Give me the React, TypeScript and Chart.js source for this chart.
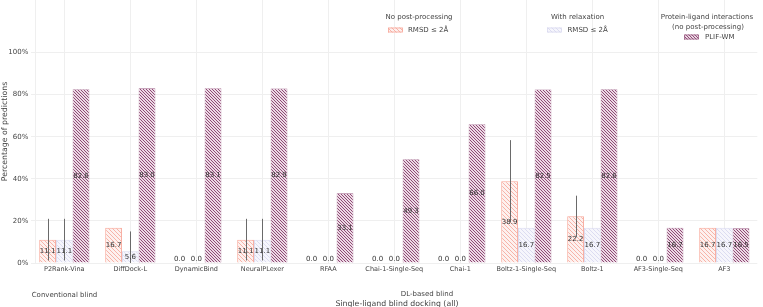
import React, { useEffect, useRef } from 'react';
import { Chart, registerables } from 'chart.js';

Chart.register(...registerables);

const categories = [
  'P2Rank-Vina', 'DiffDock-L', 'DynamicBind', 'NeuralPLexer', 'RFAA',
  'Chai-1-Single-Seq', 'Chai-1', 'Boltz-1-Single-Seq', 'Boltz-1', 'AF3-Single-Seq', 'AF3',
];
const rmsdNoPost = [11.1, 16.7, 0.0, 11.1, 0.0, 0.0, 0.0, 38.9, 22.2, 0.0, 16.7];
const rmsdRelax = [11.1, 5.6, 0.0, 11.1, 0.0, 0.0, 0.0, 16.7, 16.7, 0.0, 16.7];
const plifWm = [82.6, 83.0, 83.1, 82.9, 33.1, 49.3, 66.0, 82.5, 82.6, 16.7, 16.5];

const rmsdNoPostLow = [1.2, null, null, 1.2, null, null, null, 19.4, 12.2, null, null];
const rmsdNoPostHigh = [21.0, null, null, 21.0, null, null, null, 58.4, 32.0, null, null];
const rmsdRelaxLow = [1.2, 0.0, null, 1.2, null, null, null, null, null, null, null];
const rmsdRelaxHigh = [21.0, 15.0, null, 21.0, null, null, null, null, null, null, null];

const yTickValues = [0, 20, 40, 60, 80, 100];

const FONT = "'DejaVu Sans', sans-serif";
const TEXT = '#444444';
const GRID = '#efefef';

function makeHatch(bg: string, line: string, size: number, width: number) {
  const c = document.createElement('canvas');
  c.width = size;
  c.height = size;
  const ctx = c.getContext('2d')!;
  ctx.fillStyle = bg;
  ctx.fillRect(0, 0, size, size);
  ctx.strokeStyle = line;
  ctx.lineWidth = width;
  for (let k = -1; k <= 1; k++) {
    ctx.beginPath();
    ctx.moveTo(-1, -1 + k * size);
    ctx.lineTo(size + 1, size + 1 + k * size);
    ctx.stroke();
  }
  return ctx.createPattern(c, 'repeat')!;
}

export default function App() {
  const ref = useRef<HTMLCanvasElement | null>(null);

  useEffect(() => {
    document.body.style.margin = '0';
    const canvas = ref.current!;
    const redPat = makeHatch('#fdf1ef', '#f7b3a8', 4, 1);
    const lavPat = makeHatch('#f6f6fc', '#dcdcf1', 4, 1);
    const purPat = makeHatch('#ecdae5', '#8f4a75', 3, 1);
    const redBorder = '#f8a698';
    const lavBorder = '#dadaef';
    const purBorder = '#a0648a';

    const errs = [
      { low: rmsdNoPostLow, high: rmsdNoPostHigh },
      { low: rmsdRelaxLow, high: rmsdRelaxHigh },
      null,
    ];

    const overlay = {
      id: 'overlay',
      beforeDatasetsDraw(chart: any) {
        const ctx = chart.ctx;
        const area = chart.chartArea;
        ctx.save();
        ctx.strokeStyle = GRID;
        ctx.lineWidth = 1;
        ctx.beginPath();
        ctx.moveTo(35.5, area.top);
        ctx.lineTo(35.5, area.bottom);
        ctx.stroke();
        ctx.restore();
      },
      afterDatasetsDraw(chart: any) {
        const ctx = chart.ctx;
        const yScale = chart.scales.y;
        ctx.save();
        ctx.strokeStyle = '#6a6a6a';
        ctx.lineWidth = 1;
        errs.forEach((e, di) => {
          if (!e) return;
          const meta = chart.getDatasetMeta(di);
          meta.data.forEach((bar: any, j: number) => {
            const lo = e.low[j];
            const hi = e.high[j];
            if (lo == null || hi == null) return;
            const x = Math.round(bar.x) + 0.5;
            ctx.beginPath();
            ctx.moveTo(x, yScale.getPixelForValue(lo));
            ctx.lineTo(x, yScale.getPixelForValue(hi));
            ctx.stroke();
          });
        });
        ctx.fillStyle = '#333333';
        ctx.font = `7px ${FONT}`;
        ctx.textAlign = 'center';
        ctx.textBaseline = 'middle';
        chart.data.datasets.forEach((ds: any, di: number) => {
          const meta = chart.getDatasetMeta(di);
          meta.data.forEach((bar: any, j: number) => {
            const v = ds.data[j];
            const txt = v.toFixed(1);
            if (v === 0) {
              ctx.fillText(txt, bar.x, bar.base - 4);
            } else {
              ctx.fillText(txt, bar.x, (bar.y + bar.base) / 2);
            }
          });
        });
        ctx.restore();
      },
      afterDraw(chart: any) {
        const ctx = chart.ctx;
        ctx.save();
        ctx.fillStyle = TEXT;
        ctx.textAlign = 'center';
        ctx.textBaseline = 'middle';
        ctx.save();
        ctx.translate(5, 131.5);
        ctx.rotate(-Math.PI / 2);
        ctx.font = `7.8px ${FONT}`;
        ctx.fillText('Percentage of predictions', 0, 0);
        ctx.restore();
        ctx.font = `7px ${FONT}`;
        ctx.fillText('Conventional blind', 64.5, 295);
        ctx.fillText('DL-based blind', 427, 294);
        ctx.font = `7.8px ${FONT}`;
        ctx.fillText('Single-ligand blind docking (all)', 397, 303.5);
        ctx.font = `7px ${FONT}`;
        ctx.fillText('No post-processing', 419, 17.5);
        ctx.fillText('With relaxation', 577.5, 17.5);
        ctx.fillText('Protein-ligand interactions', 707, 17.5);
        ctx.fillText('(no post-processing)', 708, 27);
        const swatch = (x: number, y: number, pat: CanvasPattern, border: string) => {
          ctx.fillStyle = pat;
          ctx.fillRect(x, y, 15, 5);
          ctx.strokeStyle = border;
          ctx.lineWidth = 0.8;
          ctx.strokeRect(x + 0.5, y + 0.5, 14, 4);
        };
        swatch(388, 27.5, redPat, redBorder);
        swatch(547, 27.5, lavPat, lavBorder);
        swatch(684, 34.5, purPat, purBorder);
        ctx.fillStyle = TEXT;
        ctx.textAlign = 'left';
        ctx.fillText('RMSD \u2264 2\u00C5', 408, 30);
        ctx.fillText('RMSD \u2264 2\u00C5', 567.5, 30);
        ctx.fillText('PLIF-WM', 705, 37);
        ctx.restore();
      },
    };

    const chart = new Chart(canvas, {
      type: 'bar',
      data: {
        labels: categories,
        datasets: [
          { label: 'RMSD ≤ 2Å (no post-processing)', data: rmsdNoPost, backgroundColor: redPat, borderColor: redBorder, borderWidth: 1 },
          { label: 'RMSD ≤ 2Å (with relaxation)', data: rmsdRelax, backgroundColor: lavPat, borderColor: lavBorder, borderWidth: 1 },
          { label: 'PLIF-WM', data: plifWm, backgroundColor: purPat, borderColor: purBorder, borderWidth: 0.6 },
        ],
      },
      options: {
        animation: false,
        responsive: true,
        maintainAspectRatio: false,
        layout: { padding: { left: 0, right: 5.7, top: 0, bottom: 0 } },
        datasets: { bar: { categoryPercentage: 0.76, barPercentage: 1.0 } },
        plugins: { legend: { display: false }, tooltip: { enabled: false } },
        scales: {
          x: {
            offset: true,
            grid: { offset: false, color: GRID, drawTicks: false },
            border: { display: false },
            ticks: { color: TEXT, font: { family: FONT, size: 6.5 }, padding: 2.5, maxRotation: 0, autoSkip: false },
            afterFit: (s: any) => {
              s.height = 44;
              s.paddingLeft = 0;
              s.paddingRight = 0;
            },
          },
          y: {
            min: 0,
            max: 125,
            grid: { color: GRID, drawTicks: false },
            border: { display: false },
            ticks: { color: TEXT, font: { family: FONT, size: 7 }, padding: 3, callback: (v: any) => `${v}%` },
            afterBuildTicks: (s: any) => {
              s.ticks = yTickValues.map((v) => ({ value: v }));
            },
            afterFit: (s: any) => {
              s.width = 31.3;
              s.paddingTop = 0;
              s.paddingBottom = 0;
            },
          },
        },
      },
      plugins: [overlay],
    });
    return () => chart.destroy();
  }, []);

  return (
    <div style={{ position: 'fixed', left: 0, top: 0, width: 763, height: 307, background: '#fff' }}>
      <canvas ref={ref} />
    </div>
  );
}
